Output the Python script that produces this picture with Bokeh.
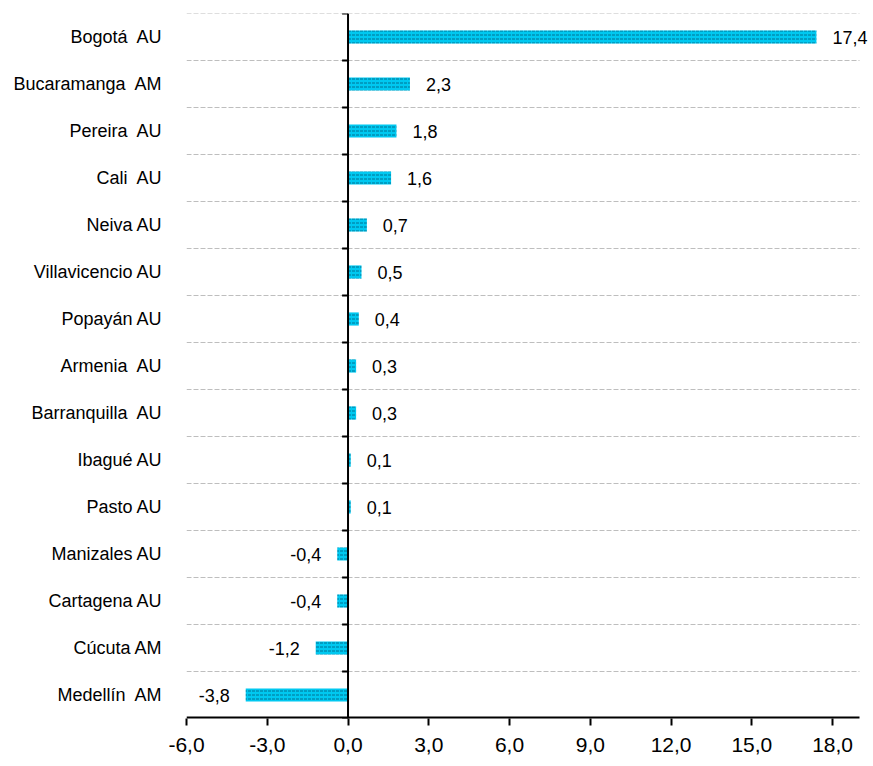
from bokeh.plotting import figure
from bokeh.models import Range1d, FixedTicker, ColumnDataSource, LabelSet
from bokeh.core.properties import value
from bokeh.embed import file_html
from bokeh.resources import INLINE

NB = "\u00a0 "
categories = ["Bogotá" + NB + "AU", "Bucaramanga" + NB + "AM", "Pereira" + NB + "AU",
              "Cali" + NB + "AU", "Neiva AU", "Villavicencio AU", "Popayán AU",
              "Armenia" + NB + "AU", "Barranquilla" + NB + "AU", "Ibagué AU", "Pasto AU",
              "Manizales AU", "Cartagena AU", "Cúcuta AM", "Medellín" + NB + "AM"]
values = [17.4, 2.3, 1.8, 1.6, 0.7, 0.5, 0.4, 0.3, 0.3, 0.1, 0.1, -0.4, -0.4, -1.2, -3.8]
x_ticks = [-6, -3, 0, 3, 6, 9, 12, 15, 18]
x_tick_labels = ["-6,0", "-3,0", "0,0", "3,0", "6,0", "9,0", "12,0", "15,0", "18,0"]
x_min, x_axis_end, x_view_end = -6, 19, 19.52

FONT = "Liberation Sans"
n = len(categories)
ypos = [n - 1 - i for i in range(n)]
labels = [f"{v:.1f}".replace(".", ",") for v in values]
pos = [v >= 0 for v in values]

p = figure(width=873, height=760, output_backend="svg", toolbar_location=None,
           x_range=Range1d(x_min, x_view_end), y_range=Range1d(-0.5, n - 0.5),
           min_border_left=186, min_border_right=0, min_border_top=13, min_border_bottom=42)
p.outline_line_color = None
p.background_fill_color = "white"
p.xgrid.visible = False
p.ygrid.visible = False

bounds = [i - 0.5 for i in range(n + 1)]
# dashed grid lines at category boundaries
gb = bounds[1:]
p.segment(x0=[x_min] * len(gb), y0=gb, x1=[x_axis_end] * len(gb), y1=gb,
          line_color="#BEBEBE", line_dash="5 2", line_width=1)

# y axis: category names
p.yaxis.ticker = FixedTicker(ticks=ypos)
p.yaxis.major_label_overrides = {y: c for y, c in zip(ypos, categories)}
p.yaxis.axis_line_color = None
p.yaxis.major_tick_line_color = None
p.yaxis.minor_tick_line_color = None
p.yaxis.major_label_standoff = 18
p.yaxis.major_label_text_font = FONT
p.yaxis.major_label_text_font_size = "18px"
p.yaxis.major_label_text_color = "black"

# x axis
p.xaxis.ticker = FixedTicker(ticks=x_ticks)
p.xaxis.major_label_overrides = {t: l for t, l in zip(x_ticks, x_tick_labels)}
p.xaxis.axis_line_color = None
p.xaxis.major_tick_line_color = "black"
p.xaxis.major_tick_line_width = 2
p.xaxis.major_tick_out = 7
p.xaxis.major_tick_in = 0
p.xaxis.minor_tick_line_color = None
p.xaxis.major_label_standoff = 12
p.xaxis.major_label_text_font = FONT
p.xaxis.major_label_text_font_size = "21px"
p.xaxis.major_label_text_color = "black"
p.segment(x0=[x_min], y0=[bounds[0]], x1=[x_axis_end], y1=[bounds[0]],
          line_color="black", line_width=4)

src = ColumnDataSource(dict(y=ypos, v=values, lab=labels))
p.hbar(y="y", left=0, right="v", height=0.28, source=src,
       fill_color="#00C8F0", line_color=None,
       hatch_pattern="horizontal_dash", hatch_color="#004E6E", hatch_alpha=0.7,
       hatch_scale=4, hatch_weight=1)

# vertical zero axis with boundary ticks
p.segment(x0=[0], y0=[bounds[0]], x1=[0], y1=[bounds[-1]], line_color="black", line_width=2)
p.segment(x0=[-0.22] * len(bounds), y0=bounds, x1=[0] * len(bounds), y1=bounds,
          line_color="black", line_width=2)

src_pos = ColumnDataSource(dict(y=[y for y, q in zip(ypos, pos) if q],
                                v=[v for v, q in zip(values, pos) if q],
                                lab=[l for l, q in zip(labels, pos) if q]))
src_neg = ColumnDataSource(dict(y=[y for y, q in zip(ypos, pos) if not q],
                                v=[v for v, q in zip(values, pos) if not q],
                                lab=[l for l, q in zip(labels, pos) if not q]))
p.add_layout(LabelSet(x="v", y="y", text="lab", source=src_pos, x_offset=16,
                      text_align="left", text_baseline="middle",
                      text_font=value(FONT), text_font_size=value("18px"), text_color="black"))
p.add_layout(LabelSet(x="v", y="y", text="lab", source=src_neg, x_offset=-16,
                      text_align="right", text_baseline="middle",
                      text_font=value(FONT), text_font_size=value("18px"), text_color="black"))

open("out.html", "w").write(file_html(p, INLINE))
